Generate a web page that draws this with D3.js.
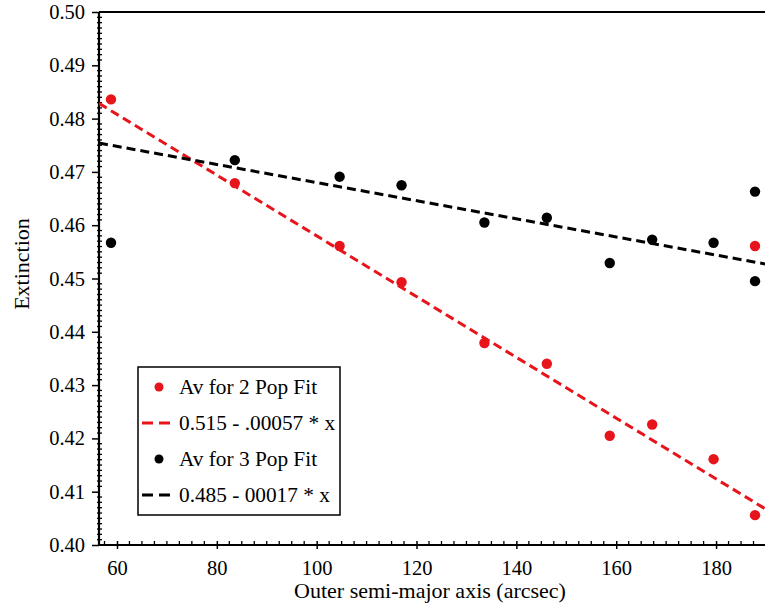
<!DOCTYPE html>
<html><head><meta charset="utf-8">
<script src="https://cdn.jsdelivr.net/npm/d3@7"></script>
<style>body{margin:0;background:#fff;} text{font-family:"Liberation Serif","Times New Roman",serif;}</style>
</head><body>
<svg id="c" width="765" height="609"></svg>
<script>
const xRed = [58.8, 83.6, 104.6, 117.0, 133.6, 146.1, 158.7, 167.2, 179.5, 187.8, 187.8];
const yRed = [0.4836, 0.4679, 0.4561, 0.4493, 0.4379, 0.4340, 0.4205, 0.4226, 0.4161, 0.4056, 0.4561];
const xBlack = [58.8, 83.6, 104.6, 117.0, 133.6, 146.1, 158.7, 167.2, 179.5, 187.8, 187.8];
const yBlack = [0.4567, 0.4722, 0.4691, 0.4675, 0.4605, 0.4614, 0.4529, 0.4573, 0.4567, 0.4663, 0.4495];
const fitRed = {a: 0.515, b: -0.00057};
const fitBlack = {a: 0.485, b: -0.00017};
const xTicks = [60, 80, 100, 120, 140, 160, 180];
const yTicks = [0.40, 0.41, 0.42, 0.43, 0.44, 0.45, 0.46, 0.47, 0.48, 0.49, 0.50];
const legendLabels = ["Av for 2 Pop Fit", "0.515 - .00057 * x", "Av for 3 Pop Fit", "0.485 - 00017 * x"];
const xTitle = "Outer semi-major axis (arcsec)";
const yTitle = "Extinction";

const svg = d3.select("#c");
const L = 99, R = 765, T = 12, B = 545;
const x = d3.scaleLinear().domain([56.4, 189.8]).range([L, R]);
const y = d3.scaleLinear().domain([0.40, 0.50]).range([B, T]);

svg.append("defs").append("clipPath").attr("id", "clip")
  .append("rect").attr("x", L).attr("y", T).attr("width", R - L).attr("height", B - T);

const yMinor = d3.range(0, 101).map(i => 0.40 + i * 0.001).filter((v, i) => i % 10 !== 0);
svg.append("g").selectAll("line").data(yMinor).join("line")
  .attr("x1", L - 2).attr("x2", L + 3).attr("y1", d => y(d)).attr("y2", d => y(d))
  .attr("stroke", "#000").attr("stroke-width", 1.3);
const xMinor = d3.range(0, 60).map(i => 57.5 + i * 2.5).filter(v => v < 189.8 && v % 20 !== 0);
svg.append("g").selectAll("line").data(xMinor).join("line")
  .attr("y1", B - 4).attr("y2", B).attr("x1", d => x(d)).attr("x2", d => x(d))
  .attr("stroke", "#000").attr("stroke-width", 1.3);

const yAx = svg.append("g").attr("transform", `translate(${L},0)`)
  .call(d3.axisLeft(y).tickValues(yTicks).tickFormat(d3.format(".2f")).tickSize(7).tickPadding(7));
yAx.attr("font-family", null).attr("font-size", null);
yAx.select(".domain").remove();
yAx.selectAll(".tick line").attr("stroke", "#000").attr("stroke-width", 1.5).attr("x2", 0).attr("x1", -7);
yAx.selectAll(".tick text").attr("font-size", 20.5).attr("fill", "#000");

const xAx = svg.append("g").attr("transform", `translate(0,${B})`)
  .call(d3.axisBottom(x).tickValues(xTicks).tickFormat(d3.format("d")).tickSize(4).tickPadding(11));
xAx.attr("font-family", null).attr("font-size", null);
xAx.select(".domain").remove();
xAx.selectAll(".tick line").attr("stroke", "#000").attr("stroke-width", 1.5).attr("y1", -4).attr("y2", 4);
xAx.selectAll(".tick text").attr("font-size", 20.5).attr("fill", "#000");

svg.append("line").attr("x1", L).attr("x2", L).attr("y1", T).attr("y2", B)
  .attr("stroke", "#000").attr("stroke-width", 2.2);
svg.append("line").attr("x1", L).attr("x2", R).attr("y1", B).attr("y2", B)
  .attr("stroke", "#000").attr("stroke-width", 2.2);
svg.append("line").attr("x1", L).attr("x2", R).attr("y1", T).attr("y2", T)
  .attr("stroke", "#000").attr("stroke-width", 2.2);

const plot = svg.append("g").attr("clip-path", "url(#clip)");
const xd = x.domain();
function fitLine(f, color) {
  plot.append("line")
    .attr("x1", x(xd[0])).attr("y1", y(f.a + f.b * xd[0]))
    .attr("x2", x(xd[1])).attr("y2", y(f.a + f.b * xd[1]))
    .attr("stroke", color).attr("stroke-width", 3).attr("stroke-dasharray", "9,5");
}
fitLine(fitRed, "#e8141b");
fitLine(fitBlack, "#000");

plot.append("g").selectAll("circle").data(d3.range(xBlack.length)).join("circle")
  .attr("cx", i => x(xBlack[i])).attr("cy", i => y(yBlack[i])).attr("r", 5.2).attr("fill", "#000");
plot.append("g").selectAll("circle").data(d3.range(xRed.length)).join("circle")
  .attr("cx", i => x(xRed[i])).attr("cy", i => y(yRed[i])).attr("r", 5.2).attr("fill", "#e8141b");

svg.append("text").attr("x", 430).attr("y", 598).attr("text-anchor", "middle")
  .attr("font-size", 22).text(xTitle);
svg.append("text").attr("transform", "translate(29,264) rotate(-90)").attr("text-anchor", "middle")
  .attr("font-size", 22).text(yTitle);

const lg = svg.append("g");
lg.append("rect").attr("x", 138).attr("y", 367).attr("width", 202).attr("height", 148)
  .attr("fill", "#fff").attr("stroke", "#000").attr("stroke-width", 1.5);
const rowY = [387, 423, 459, 495];
const rowColor = ["#e8141b", "#e8141b", "#000", "#000"];
rowY.forEach((ry, i) => {
  if (i % 2 === 0) {
    lg.append("circle").attr("cx", 159).attr("cy", ry).attr("r", 4.5).attr("fill", rowColor[i]);
  } else {
    lg.append("line").attr("x1", 142).attr("x2", 172).attr("y1", ry).attr("y2", ry)
      .attr("stroke", rowColor[i]).attr("stroke-width", 3).attr("stroke-dasharray", "11,6");
  }
  lg.append("text").attr("x", 179).attr("y", ry + 7).attr("font-size", 21.3).text(legendLabels[i]);
});
</script>
</body></html>
